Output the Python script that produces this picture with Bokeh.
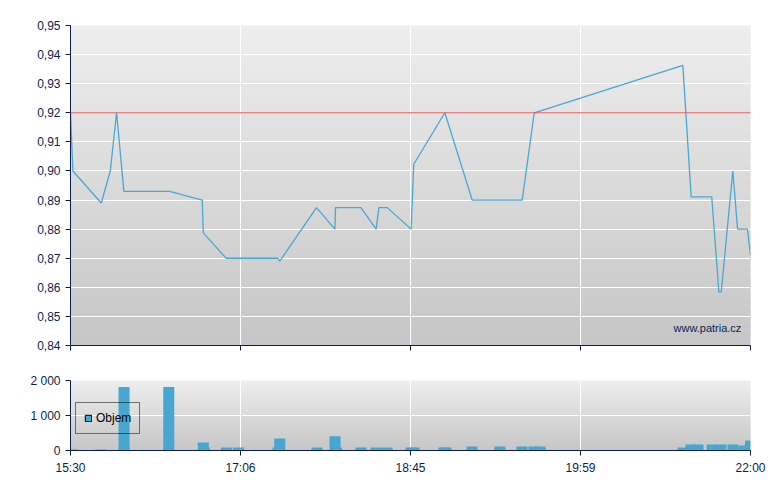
from bokeh.plotting import figure
from bokeh.models import Range1d, FixedTicker, Span, Label, Legend, LegendItem
from bokeh.layouts import column
from bokeh.embed import file_html
from bokeh.resources import INLINE

# x positions are in chart units (0 = 15:30, 400 = 22:00, ticks evenly spaced)
tick_pos = [0, 100, 200, 300, 400]
tick_labels = ["15:30", "17:06", "18:45", "19:59", "22:00"]

price_x = [0, 1.4, 18.1, 23.4, 27.1, 31.4, 58.4, 77.5, 78.1, 91.6, 121.9, 123.1,
           144.7, 155.5, 155.9, 170.8, 179.8, 181.4, 186.3, 200.4, 201.9, 220.2,
           236.3, 265.7, 272.8, 360.2, 365.1, 377.2, 381.4, 382.8, 389.6, 392.4,
           398.2, 400]
price_y = [0.920, 0.900, 0.889, 0.900, 0.920, 0.893, 0.893, 0.890, 0.8787, 0.870,
           0.870, 0.869, 0.8874, 0.880, 0.8874, 0.8874, 0.880, 0.8874, 0.8874, 0.880,
           0.9023, 0.920, 0.890, 0.890, 0.920, 0.9363, 0.8911, 0.8911, 0.8584,
           0.8584, 0.900, 0.880, 0.880, 0.871]
ref_price = 0.92

vol_x = [1.2, 17.8, 31.5, 57.8, 78.8, 78.1, 91.8, 98.8, 122.1, 123.1, 145.0, 156.5,
         155.6, 170.9, 179.7, 186.2, 200.3, 202.1, 219.7, 220.9, 236.2, 252.6,
         265.6, 272.6, 276.2, 360.3, 365.0, 369.1, 377.4, 382.6, 389.7, 396.2, 400.0]
vol_y = [30, 30, 1817, 1817, 87, 231, 87, 87, 87, 346, 87, 87, 404, 87, 87, 87, 87,
         87, 87, 87, 115, 115, 115, 115, 115, 87, 173, 173, 173, 173, 173, 144, 288]

price_ticks = [0.84, 0.85, 0.86, 0.87, 0.88, 0.89, 0.90, 0.91, 0.92, 0.93, 0.94, 0.95]
vol_ticks = [0, 1000, 2000]
vol_tick_labels = ["0", "1 000", "2 000"]

NAVY = "#0b1f4f"
LINE = "#4aa8d0"
BAR = "#47a7d0"
FONT = "Liberation Sans"


def gradient(p, y0, y1, n=40, top=(0xef, 0xef, 0xef), bot=(0xc6, 0xc6, 0xc6)):
    step = (y1 - y0) / n
    bottoms, tops, colors = [], [], []
    for i in range(n):
        t = (i + 0.5) / n
        c = tuple(int(round(bot[k] + (top[k] - bot[k]) * t)) for k in range(3))
        bottoms.append(y0 + i * step)
        tops.append(y0 + (i + 1) * step + step * 0.6)
        colors.append("#%02x%02x%02x" % c)
    r = p.quad(left=-1, right=401, bottom=bottoms[::-1], top=tops[::-1],
               fill_color=colors[::-1], line_color=None)
    r.level = "image"


def style(p):
    p.outline_line_color = None
    p.background_fill_color = "#ffffff"
    p.border_fill_color = "#ffffff"
    for ax in (p.xaxis[0], p.yaxis[0]):
        ax.axis_line_color = NAVY
        ax.major_tick_line_color = NAVY
        ax.minor_tick_line_color = None
        ax.major_tick_out = 5
        ax.major_tick_in = 0
        ax.major_label_text_color = NAVY
        ax.major_label_text_font = FONT
        ax.major_label_text_font_size = "12px"
    p.xgrid.grid_line_color = "white"
    p.ygrid.grid_line_color = "white"
    p.xgrid.grid_line_width = 1
    p.ygrid.grid_line_width = 1
    p.xaxis.ticker = FixedTicker(ticks=tick_pos)


# ---------- price chart ----------
p = figure(width=772, height=365, output_backend="svg", toolbar_location=None,
           x_range=Range1d(0, 400), y_range=Range1d(0.84, 0.95),
           min_border_left=70, min_border_right=22, min_border_top=25,
           min_border_bottom=20)
style(p)
gradient(p, 0.84, 0.95)
p.yaxis.ticker = FixedTicker(ticks=price_ticks)
p.yaxis.major_label_overrides = {t: ("%.2f" % t).replace(".", ",") for t in price_ticks}
p.xaxis.major_label_overrides = {t: "" for t in tick_pos}
p.xaxis.major_label_text_font_size = "0px"
p.add_layout(Span(location=ref_price, dimension="width", line_color="#e05a5a",
                  line_width=1.2))
p.line(price_x, price_y, line_color=LINE, line_width=1.3)
p.add_layout(Label(x=603, y=18, x_units="screen", y_units="screen",
                   text="www.patria.cz", text_color=NAVY, text_font=FONT,
                   text_font_size="11px", text_baseline="alphabetic"))

# ---------- volume chart ----------
v = figure(width=772, height=115, output_backend="svg", toolbar_location=None,
           x_range=Range1d(0, 400), y_range=Range1d(0, 2000),
           min_border_left=70, min_border_right=22, min_border_top=15,
           min_border_bottom=30)
style(v)
gradient(v, 0, 2000)
v.yaxis.ticker = FixedTicker(ticks=vol_ticks)
v.yaxis.major_label_overrides = dict(zip(vol_ticks, vol_tick_labels))
v.xaxis.major_label_overrides = dict(zip(tick_pos, tick_labels))
v.vbar(x=vol_x, top=vol_y, width=6.5, bottom=0, fill_color=BAR, line_color=None)
dummy = v.vbar(x=[-50], top=[-500], bottom=[-600], width=1, fill_color=BAR,
               line_color="black", line_width=1)
leg = Legend(items=[LegendItem(label="Objem", renderers=[dummy])],
             location=(5, 16), border_line_color="black", border_line_width=1,
             background_fill_alpha=0, label_text_font=FONT,
             label_text_font_size="12px", label_text_color="black",
             glyph_width=8, glyph_height=8, padding=8, margin=0,
             label_standoff=4, label_height=12)
v.add_layout(leg, "center")

layout = column(p, v, spacing=0)
open("out.html", "w").write(file_html(layout, INLINE))
